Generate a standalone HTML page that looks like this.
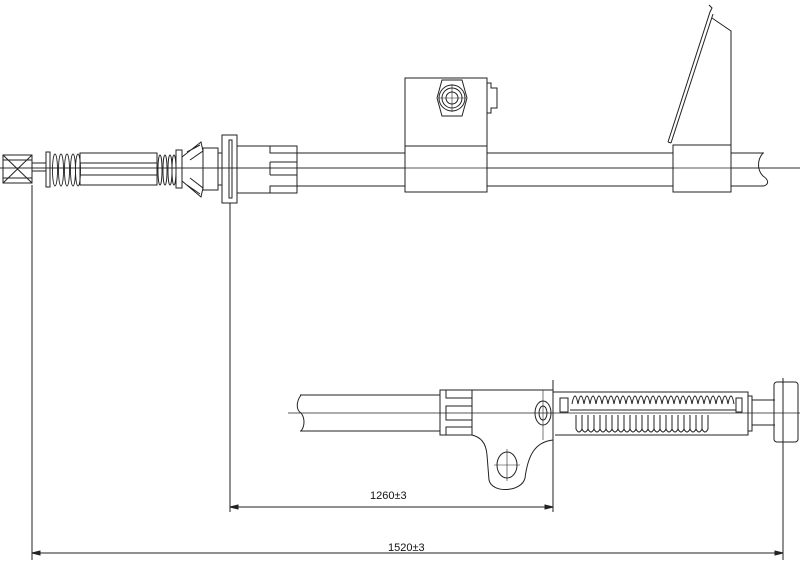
<!DOCTYPE html>
<html><head><meta charset="utf-8"><style>html,body{margin:0;padding:0;background:#fff}svg{display:block}</style></head><body>
<svg width="800" height="561" viewBox="0 0 800 561" xmlns="http://www.w3.org/2000/svg" fill="none" stroke="#222" stroke-width="1">
<line x1="0" y1="168" x2="800" y2="168" stroke-width="0.8"/>
<line x1="297" y1="153" x2="764" y2="153"/>
<line x1="297" y1="186" x2="764" y2="186"/>
<path d="M763 153 C757 160 757 170 763 176 M763 176 C769 180 769 184 764 186" />
<rect x="405" y="78" width="82" height="114" fill="#fff"/>
<line x1="405" y1="153" x2="487" y2="153" stroke="none"/>
<line x1="0" y1="168" x2="800" y2="168" stroke-width="0.8"/>
<line x1="405" y1="146" x2="487" y2="146"/>
<path d="M487 83 H491 V88 H497 V108 H491 V113 H487"/>
<polygon points="442,80 462,80 467,98 462,116 442,116 437,98"/>
<circle cx="452" cy="98" r="13"/><circle cx="452" cy="98" r="10"/><circle cx="452" cy="98" r="6"/>
<line x1="452" y1="84" x2="452" y2="112" stroke-width="0.6"/><line x1="438" y1="98" x2="466" y2="98" stroke-width="0.6"/>
<rect x="673" y="145" width="58" height="47" fill="#fff"/>
<line x1="673" y1="168" x2="731" y2="168" stroke-width="0.8"/>
<path d="M731 145 V31 L712 18"/>
<path d="M668 142 L710 12 L712 8 L709 5 M671 143 L713 14"/>
<line x1="668" y1="142" x2="671" y2="143"/>
<!-- left end -->
<rect x="3" y="155" width="29" height="28"/>
<path d="M3 155 L32 183 M32 155 L3 183 M3 160 H32 M3 178 H32"/>
<rect x="32" y="163" width="14" height="8"/>
<rect x="46" y="152" width="4" height="35"/>
<g stroke-width="0.9">
<ellipse cx="55" cy="170" rx="2.5" ry="16"/><ellipse cx="61" cy="170" rx="2.5" ry="16"/><ellipse cx="67" cy="170" rx="2.5" ry="16"/><ellipse cx="73" cy="170" rx="2.5" ry="16"/><ellipse cx="78" cy="170" rx="2.5" ry="16"/>
<ellipse cx="160" cy="170" rx="2" ry="15"/><ellipse cx="165" cy="170" rx="2" ry="15"/><ellipse cx="170" cy="170" rx="2" ry="15"/><ellipse cx="174" cy="170" rx="2" ry="15"/>
</g>
<rect x="80" y="153" width="77" height="32"/>
<line x1="80" y1="163" x2="157" y2="163"/><line x1="80" y1="175" x2="157" y2="175"/>
<rect x="176" y="150" width="6" height="38"/>
<path d="M182 157 L201 142 L203 151 L190 160 M182 181 L201 197 L203 188 L190 178 M187 152 L200 145 M187 185 L200 194"/>
<rect x="203" y="148" width="15" height="42"/>
<rect x="218" y="153" width="4" height="32"/>
<rect x="222" y="135" width="15" height="68"/>
<rect x="229" y="140" width="3" height="58"/>
<rect x="237" y="146" width="60" height="47"/>
<path d="M270 146 V153 H297 M270 162 H297 M270 175 H297 M270 175 V162 M270 193 V186 H297"/>
<!-- dimension lines -->
<line x1="32" y1="185" x2="32" y2="560"/>
<line x1="230" y1="203" x2="230" y2="512"/>
<line x1="553" y1="380" x2="553" y2="512"/>
<line x1="783" y1="378" x2="783" y2="560"/>
<line x1="230" y1="507" x2="553" y2="507"/>
<path d="M230 507 l8 -2 v4 z M553 507 l-8 -2 v4 z" fill="#222"/>
<line x1="32" y1="553" x2="783" y2="553"/>
<path d="M32 553 l8 -2 v4 z M783 553 l-8 -2 v4 z" fill="#222"/>
<g fill="#111" stroke="none" font-family="Liberation Sans, sans-serif" font-size="11">
<text x="370" y="499">1260±3</text>
<text x="388" y="551">1520±3</text>
</g>
<!-- bottom assembly -->
<line x1="288" y1="413" x2="800" y2="413" stroke-width="0.8"/>
<line x1="300" y1="395" x2="440" y2="395"/><line x1="300" y1="431" x2="440" y2="431"/>
<path d="M301 395 C296 402 296 410 301 413 C305 418 305 426 301 431"/>
<rect x="440" y="390" width="32" height="45"/>
<path d="M446 390 V398 H472 M446 406 H472 V420 H446 Z M446 435 V427 H472"/>
<path d="M472 390 H553 V440 C535 442 528 455 525 478 C522 492 492 494 489 480 L487 455 C486 442 480 437 472 435"/>
<ellipse cx="543" cy="413" rx="8" ry="12"/><ellipse cx="543" cy="413" rx="4" ry="7"/>
<line x1="543" y1="390" x2="543" y2="440" stroke-width="0.6"/>
<ellipse cx="507" cy="465" rx="10" ry="13"/>
<line x1="494" y1="465" x2="520" y2="465" stroke-width="0.6"/><line x1="507" y1="449" x2="507" y2="481" stroke-width="0.6"/>
<path d="M553 392 H748 V435 H555"/>
<rect x="560" y="398" width="8" height="14"/><rect x="736" y="398" width="6" height="14"/>
<line x1="570" y1="410" x2="736" y2="410"/>
<path d="M572 404 q3 -16 6 0 q3 -16 6 0 q3 -16 6 0 q3 -16 6 0 q3 -16 6 0 q3 -16 6 0 q3 -16 6 0 q3 -16 6 0 q3 -16 6 0 q3 -16 6 0 q3 -16 6 0 q3 -16 6 0 q3 -16 6 0 q3 -16 6 0 q3 -16 6 0 q3 -16 6 0 q3 -16 6 0 q3 -16 6 0 q3 -16 6 0 q3 -16 6 0 q3 -16 6 0 q3 -16 6 0 q3 -16 6 0 q3 -16 6 0 q3 -16 6 0 q3 -16 6 0 q3 -16 6 0"/>
<path d="M576 415 v14 q3 6 6 0 v-14 v14 q3 6 6 0 v-14 v14 q3 6 6 0 v-14 v14 q3 6 6 0 v-14 v14 q3 6 6 0 v-14 v14 q3 6 6 0 v-14 v14 q3 6 6 0 v-14 v14 q3 6 6 0 v-14 v14 q3 6 6 0 v-14 v14 q3 6 6 0 v-14 v14 q3 6 6 0 v-14 v14 q3 6 6 0 v-14 v14 q3 6 6 0 v-14 v14 q3 6 6 0 v-14 v14 q3 6 6 0 v-14 v14 q3 6 6 0 v-14 v14 q3 6 6 0 v-14 v14 q3 6 6 0 v-14 v14 q3 6 6 0 v-14 v14 q3 6 6 0 v-14 v14 q3 6 6 0 v-14 v14 q3 6 6 0 v-14"/>
<rect x="748" y="396" width="4" height="35"/>
<path d="M752 400 H775 M752 425 H775"/>
<rect x="774" y="382" width="24" height="60" rx="3"/>
</svg>
</body></html>
